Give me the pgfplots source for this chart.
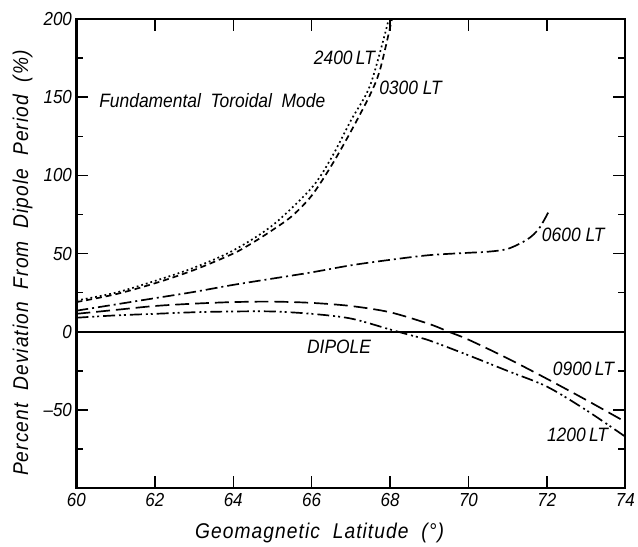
\documentclass[border=0pt]{standalone}
\usepackage{fontspec}
\setmainfont{Liberation Sans}[FakeStretch=0.9]
\usepackage{pgfplots}
\pgfplotsset{compat=1.18}
\begin{document}
\begin{tikzpicture}
\path (-77pt,-58pt) (561pt,492pt);
\begin{axis}[
  scale only axis, width=553pt, height=473pt,
  xmin=60, xmax=74, ymin=-100, ymax=200,
  xtick={60,62,...,74},
  ytick={-50,0,50,100,150,200},
  yticklabels={\textendash50,0,50,100,150,200},
  minor ytick={-75,-25,25,75,125,175},
  tick align=inside,
  major tick length=12pt, minor tick length=7pt,
  every tick/.style={black, line width=1.4pt},
  axis line style={line width=2.2pt},
  /pgf/number format/assume math mode=true,
  ticklabel style={font=\fontsize{19}{19}\selectfont\itshape},
  yticklabel style={xshift=-1pt},
  xticklabel style={yshift=-2pt},
  xlabel={Geomagnetic\ \ Latitude\ \ (°)},
  ylabel={Percent\ \ Deviation\ \ From\ \ Dipole\ \ Period\ \ (\%)},
  xlabel style={font=\fontsize{21.5}{21.5}\selectfont\itshape\addfontfeatures{LetterSpace=5}, at={(axis description cs:0.443,0)}, yshift=-45pt, anchor=center},
  ylabel style={font=\fontsize{21.5}{21.5}\selectfont\itshape\addfontfeatures{LetterSpace=5}, at={(axis description cs:-0.098,0.48)}, anchor=center},
  clip=false,
]
% DIPOLE
\addplot[black, line width=1.8pt] coordinates {(60,0) (74,0)};
% 2400 LT dashed
\addplot[black, line width=1.7pt, smooth, dash pattern=on 6pt off 4pt] coordinates {
(60,19) (61,24) (62,31) (63,39.5) (64,50) (64.5,57) (65,65) (65.5,74) (66,87) (66.5,106) (67,128) (67.5,152) (67.75,168) (68.05,200)};
% 0300 LT dotted
\addplot[black, line width=1.7pt, smooth, dash pattern=on 1.8pt off 3pt] coordinates {
(60,20) (61,25) (62,32.5) (63,41) (64,52) (65,68) (66,92) (66.5,111) (67,135) (67.5,158) (67.97,200)};
% 0600 LT dash-dot
\addplot[black, line width=1.7pt, smooth, dash pattern=on 12pt off 4pt on 2pt off 4pt] coordinates {
(60,13.5) (61,17.5) (62,21.5) (63,25.5) (64,30) (65,34) (66,38) (67,42.5) (68,46) (69,49) (70,50.5) (70.5,51.2) (71,53) (71.5,59) (71.8,66) (72.05,77)};
% 0900 LT long dash
\addplot[black, line width=1.7pt, smooth, dash pattern=on 14pt off 6pt] coordinates {
(60,11.5) (61,14) (62,16.5) (63,18) (64,19) (65,19.3) (66,18.5) (67,16.5) (68,12.5) (69,5) (69.5,0) (70,-5) (71,-17) (72,-30) (73,-43.5) (74,-57.5)};
% 1200 LT dash-dot-dot
\addplot[black, line width=1.7pt, smooth, dash pattern=on 12pt off 4pt on 2pt off 3pt on 2pt off 4pt] coordinates {
(60,9) (61,10.5) (62,11.5) (63,12.5) (64,13) (65,13) (66,11.5) (67,8.5) (68,1.5) (68.5,-2) (69,-5.5) (70,-15) (71,-25) (72,-35) (73,-50) (74,-67)};
\begin{scope}[every node/.style={font=\fontsize{19.5}{19.5}\selectfont\itshape, inner sep=0pt}]
\node[anchor=west] at (axis cs:60.58,148) {Fundamental\ \ Toroidal\ \ Mode};
\node[anchor=east] at (axis cs:67.62,175) {2400\,LT};
\node[anchor=west] at (axis cs:67.72,156) {0300 LT};
\node[anchor=west] at (axis cs:71.87,62) {0600 LT};
\node[anchor=west] at (axis cs:72.15,-23.5) {0900\,LT};
\node[anchor=west] at (axis cs:72.0,-66) {1200\,LT};
\node[anchor=center] at (axis cs:66.7,-9.5) {DIPOLE};
\end{scope}
\end{axis}
\end{tikzpicture}
\end{document}
